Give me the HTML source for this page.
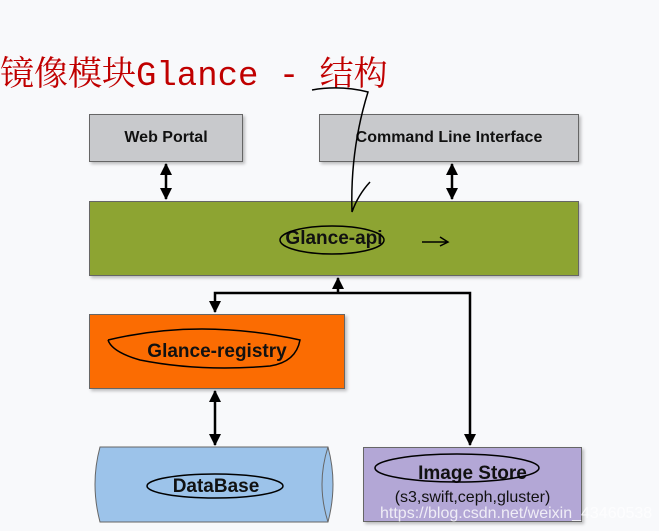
<!DOCTYPE html>
<html><head><style>
body{margin:0;width:659px;height:531px;background:#f8f9fb;overflow:hidden;position:relative;font-family:"Liberation Sans","Noto Sans CJK SC",sans-serif}
.t{position:absolute;left:0;top:46px;color:#c00000;font-size:34px;white-space:nowrap;font-family:"Liberation Mono","Noto Serif CJK SC",serif}
.b{position:absolute;box-sizing:border-box;border:1px solid #666;display:flex;align-items:center;justify-content:center;font-weight:bold;color:#111;box-shadow:2px 2px 3px rgba(0,0,0,.25)}
</style></head><body>
<div class="t">镜像模块Glance - 结构</div>
<div class="b" style="left:89px;top:114px;width:154px;height:48px;background:#c8c9cc;font-size:16px">Web Portal</div>
<div class="b" style="left:319px;top:114px;width:260px;height:48px;background:#c8c9cc;font-size:16px">Command Line Interface</div>
<div class="b" style="left:89px;top:201px;width:490px;height:75px;background:#8da432;font-size:19px">Glance-api</div>
<div class="b" style="left:89px;top:314px;width:256px;height:75px;background:#fb6c02;font-size:19px">Glance-registry</div>
<div class="b" style="left:363px;top:447px;width:219px;height:75px;background:#b3a7d6;font-size:19px;flex-direction:column;font-weight:normal"><b>Image Store</b><span style="font-size:16px;margin-top:4px">(s3,swift,ceph,gluster)</span></div>
<svg width="659" height="531" style="position:absolute;left:0;top:0">
<defs><marker id="a" markerWidth="12" markerHeight="12" refX="11" refY="6" orient="auto-start-reverse" markerUnits="userSpaceOnUse"><path d="M0,0 L12,6 L0,12z" fill="#000"/></marker></defs>
<path d="M100,447 L328,447 Q338,484 328,522 L100,522 Q90,484 100,447z" fill="#9cc3ea" stroke="#666"/>
<path d="M328,447 Q316,484 328,522" fill="none" stroke="#666"/>
<text x="216" y="492" font-size="19" font-weight="bold" text-anchor="middle" font-family="Liberation Sans" fill="#111">DataBase</text>
<g stroke="#000" stroke-width="2.5" fill="none">
<line x1="166" y1="164" x2="166" y2="199" marker-start="url(#a)" marker-end="url(#a)"/>
<line x1="452" y1="164" x2="452" y2="199" marker-start="url(#a)" marker-end="url(#a)"/>
<line x1="215" y1="391" x2="215" y2="445" marker-start="url(#a)" marker-end="url(#a)"/>
<polyline points="215,312 215,293 470,293 470,445" marker-start="url(#a)" marker-end="url(#a)"/>
<line x1="338" y1="293" x2="338" y2="278" marker-end="url(#a)"/>
</g>
<g stroke="#000" stroke-width="1.5" fill="none">
<path d="M312,90 Q340,85 368,92 Q350,150 352,212 Q358,195 370,182"/>
<ellipse cx="332" cy="240" rx="52" ry="14"/>
<path d="M422,242 L448,242 M440,237 L448,242 L440,246"/>
<path d="M108,340 Q200,318 300,340 Q296,362 270,366 Q200,372 140,360 Q112,352 108,340"/>
<ellipse cx="215" cy="486" rx="68" ry="12"/>
<ellipse cx="457" cy="468" rx="82" ry="14"/>
</g>
<text x="380" y="518" font-size="16" fill="#fff" opacity=".8" font-family="Liberation Sans">https://blog.csdn.net/weixin_43460538</text>
</svg>
</body></html>
